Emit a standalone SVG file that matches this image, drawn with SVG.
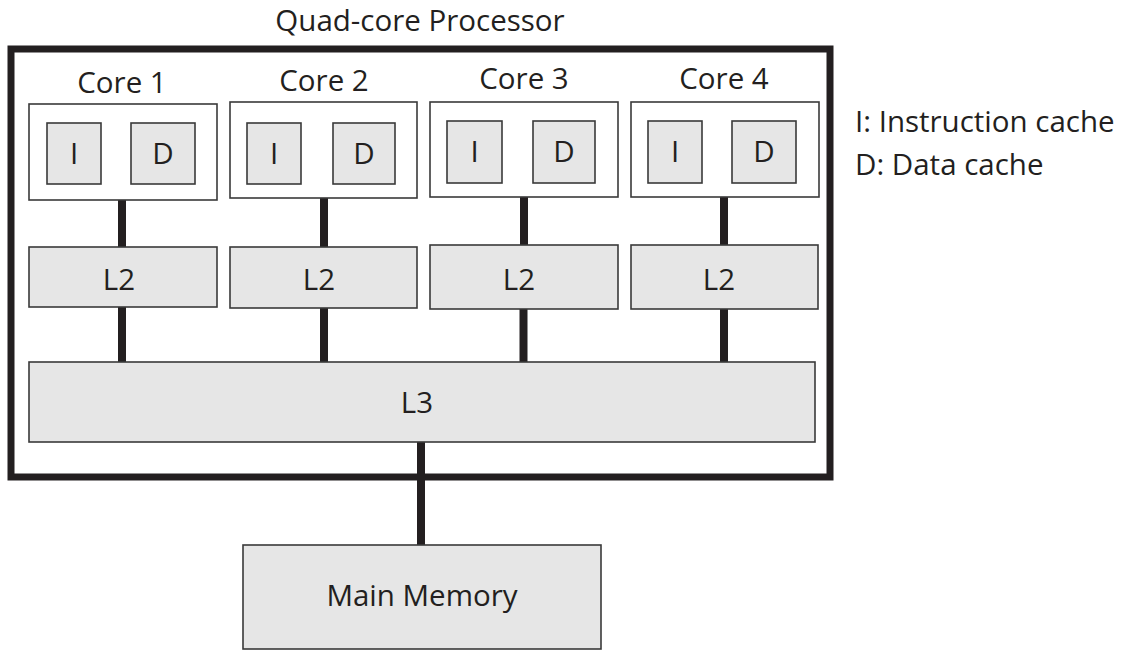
<svg xmlns="http://www.w3.org/2000/svg" width="1136" height="651" viewBox="0 0 1136 651">
<style>
text{font-family:"Open Sans","Noto Sans","Liberation Sans",sans-serif;fill:#231f20;font-size:29.5px}
.c{text-anchor:middle}
.core{fill:#fff;stroke:#3a3a3a;stroke-width:1.6}
.g{fill:#e6e6e6;stroke:#3a3a3a;stroke-width:1.6}
.w{stroke:#231f20;stroke-width:8;fill:none}
</style>
<rect width="1136" height="651" fill="#fff"/>
<g id="processor">
<rect x="11" y="49" width="819" height="428" fill="none" stroke="#231f20" stroke-width="7"/>
<text class="c" x="420" y="31">Quad-core Processor</text>
</g>
<g id="connectors">
<line class="w" x1="122" y1="200" x2="122" y2="247"/>
<line class="w" x1="324" y1="198" x2="324" y2="247"/>
<line class="w" x1="524" y1="197" x2="524" y2="245"/>
<line class="w" x1="724" y1="197" x2="724" y2="245"/>
<line class="w" x1="122" y1="307" x2="122" y2="362"/>
<line class="w" x1="324" y1="308" x2="324" y2="362"/>
<line class="w" x1="523.5" y1="309" x2="523.5" y2="362"/>
<line class="w" x1="724" y1="309" x2="724" y2="362"/>
<line class="w" x1="421" y1="442" x2="421" y2="545"/>
</g>
<g id="core1">
<text class="c" x="122" y="93">Core 1</text>
<rect class="core" x="29" y="104" width="188" height="96"/>
<rect class="g" x="47" y="123" width="54" height="61"/>
<text class="c" x="74" y="164">I</text>
<rect class="g" x="131" y="123" width="64" height="61"/>
<text class="c" x="163" y="164">D</text>
</g>
<g id="core2">
<text class="c" x="324" y="91">Core 2</text>
<rect class="core" x="230" y="102" width="187" height="96"/>
<rect class="g" x="247" y="123" width="54" height="61"/>
<text class="c" x="274" y="164">I</text>
<rect class="g" x="333" y="123" width="62" height="61"/>
<text class="c" x="364" y="164">D</text>
</g>
<g id="core3">
<text class="c" x="524" y="89">Core 3</text>
<rect class="core" x="430" y="102" width="188" height="95"/>
<rect class="g" x="447" y="121" width="55" height="62"/>
<text class="c" x="474.5" y="162">I</text>
<rect class="g" x="533" y="121" width="62" height="62"/>
<text class="c" x="564" y="162">D</text>
</g>
<g id="core4">
<text class="c" x="724" y="89">Core 4</text>
<rect class="core" x="631" y="102" width="188" height="95"/>
<rect class="g" x="648" y="121" width="54" height="62"/>
<text class="c" x="675" y="162">I</text>
<rect class="g" x="732" y="121" width="64" height="62"/>
<text class="c" x="764" y="162">D</text>
</g>
<g id="l2-1"><rect class="g" x="29" y="247" width="188" height="60"/><text class="c" x="119" y="290">L2</text></g>
<g id="l2-2"><rect class="g" x="230" y="247" width="187" height="61"/><text class="c" x="319" y="290">L2</text></g>
<g id="l2-3"><rect class="g" x="430" y="245" width="188" height="64"/><text class="c" x="519" y="290">L2</text></g>
<g id="l2-4"><rect class="g" x="631" y="245" width="187" height="64"/><text class="c" x="719" y="290">L2</text></g>
<g id="l3"><rect class="g" x="29" y="362" width="786" height="80"/><text class="c" x="417" y="413">L3</text></g>
<g id="memory"><rect class="g" x="243" y="545" width="358" height="104"/><text class="c" x="422" y="606">Main Memory</text></g>
<g id="legend">
<text x="855" y="132">I: Instruction cache</text>
<text x="855" y="175">D: Data cache</text>
</g>
</svg>
